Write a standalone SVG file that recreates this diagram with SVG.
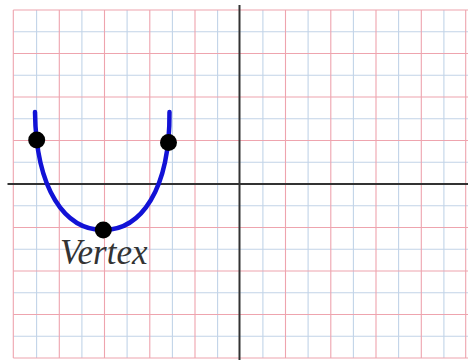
<svg xmlns="http://www.w3.org/2000/svg" width="472" height="360" viewBox="0 0 472 360">
<style>
.maj{stroke:#eea4ae;stroke-width:1.1;fill:none}
.min{stroke:#c2d4e8;stroke-width:1.1;fill:none}
.axis{stroke:#333;stroke-width:2;fill:none}
.curve{stroke:#1212d6;stroke-width:4.5;fill:none;stroke-linecap:round}
.pt{fill:#000}
.lbl{font-family:"Liberation Serif","Times New Roman",serif;font-style:italic;font-size:35px;fill:#333}
</style>
<rect width="472" height="360" fill="#fff"/>
<g id="grid">
<g class="min">
<path d="M36.6 10V358M81.9 10V358M127.1 10V358M172.4 10V358M217.6 10V358M262.9 10V358M308.1 10V358M353.4 10V358M398.6 10V358M443.9 10V358"/>
<path d="M13.3 31.75H468M13.3 75.25H468M13.3 118.75H468M13.3 162.25H468M13.3 205.75H468M13.3 249.25H468M13.3 292.75H468M13.3 336.25H468"/>
</g>
<g class="maj">
<path d="M13.3 10V358M59.3 10V358M104.5 10V358M149.8 10V358M195 10V358M285.5 10V358M330.8 10V358M376 10V358M421.3 10V358M465.7 10V358"/>
<path d="M13.3 10H468M13.3 53.5H468M13.3 97H468M13.3 140.5H468M13.3 227.5H468M13.3 271H468M13.3 314.5H468M13.3 358H468"/>
</g>
</g>
<g id="axes">
<line class="axis" x1="7.5" y1="184" x2="468" y2="184"/>
<line class="axis" x1="239.5" y1="5" x2="239.5" y2="360"/>
</g>
<g id="connectors">
<path id="parabola" class="curve" d="M35 112C36 190 65 230 103.3 230C141 230 170 190 169.5 112"/>
</g>
<g id="point-left"><circle class="pt" cx="36.7" cy="140" r="8.5"/></g>
<g id="point-right"><circle class="pt" cx="168.5" cy="142.5" r="8.5"/></g>
<g id="vertex"><circle class="pt" cx="103.3" cy="230" r="8.5"/>
<text class="lbl" x="60" y="264">Vertex</text></g>
</svg>
